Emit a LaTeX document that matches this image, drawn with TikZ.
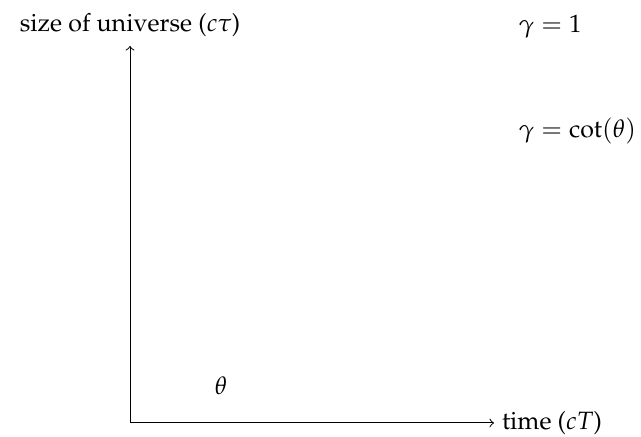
\documentclass[tikz,border=0pt]{standalone}
\usepackage[T1]{fontenc}
\usepackage{amsmath}
\usepackage{mathpazo}
\usepackage{tikz}
\usetikzlibrary{positioning}

\begin{document}
\begin{tikzpicture}[
  x=0.4pt,
  y=0.4pt,
  font=\normalsize,
  axis/.style={->,draw=black,line width=0.4pt},
  label/.style={inner sep=2pt}
]
\useasboundingbox (0,0) rectangle (641,437);

% Axes.
\coordinate (origin) at (130,14);
\coordinate (ytip) at (130,391);
\coordinate (xtip) at (494,14);
\draw[axis] (origin) -- (ytip);
\draw[axis] (origin) -- (xtip);

% Axis labels.
\node[label,anchor=base] (ylabel) at (130,405) {size of universe ($c\tau$)};
\node[label,right=1pt of xtip] (xlabel) {time ($cT$)};

% Curve labels and angle.
\node[label,anchor=base west] (gone) at (513,404) {$\gamma = 1$};
\node[label,anchor=base west] (gcot) at (513,299) {$\gamma = \cot(\theta)$};
\node[label] (theta) at (221,51) {$\theta$};

\end{tikzpicture}
\end{document}
